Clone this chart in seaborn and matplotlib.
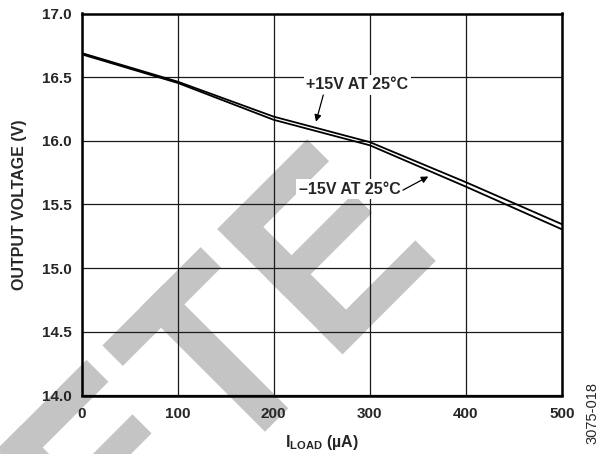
import numpy as np
import pandas as pd
import matplotlib
matplotlib.use("Agg")
import matplotlib.pyplot as plt
from matplotlib.patches import Polygon
import seaborn as sns

# === DATA ===
load_ua = [0, 100, 200, 300, 400, 500]
vout_pos = [16.69, 16.465, 16.19, 15.99, 15.675, 15.345]   # +15V AT 25°C
vout_neg = [16.68, 16.455, 16.165, 15.965, 15.64, 15.305]  # -15V AT 25°C
x_ticks = [0, 100, 200, 300, 400, 500]
y_ticks = [14.0, 14.5, 15.0, 15.5, 16.0, 16.5, 17.0]

df = pd.DataFrame({
    "load": load_ua + load_ua,
    "vout": vout_pos + vout_neg,
    "supply": ["+15V"] * len(load_ua) + ["-15V"] * len(load_ua),
})

# === STYLE ===
sns.set_style("white")
plt.rcParams["font.family"] = ["Liberation Sans", "DejaVu Sans"]
plt.rcParams["mathtext.fontset"] = "custom"
plt.rcParams["mathtext.rm"] = "Liberation Sans"
plt.rcParams["mathtext.bf"] = "Liberation Sans:bold"

W, H = 600, 454
fig = plt.figure(figsize=(W / 100, H / 100), dpi=100)
ax = fig.add_axes([81.5 / W, 1 - 395.5 / H, (562 - 81.5) / W, (395.5 - 13.5) / H])
ax.patch.set_alpha(0)

# === WATERMARK (grey rotated letters "E T E") ===
def to_fig(u, v, ox=265.0, oy=431.7):
    r = np.sqrt(2)
    X = ox + (u - v) / r
    Y = oy - (u + v) / r
    return X / W, 1 - Y / H

def letter_E(u0):
    return [(u0, u0 + 34, 0, 177), (u0, u0 + 132, 0, 29),
            (u0, u0 + 121, 79, 106), (u0, u0 + 127, 146, 177)]

rects = letter_E(-202.4) + [(0, 33, 0, 176), (-54, 85, 147, 176)] + letter_E(109.6)
for u1, u2, v1, v2 in rects:
    pts = [to_fig(u1, v1), to_fig(u2, v1), to_fig(u2, v2), to_fig(u1, v2)]
    fig.patches.append(Polygon(pts, closed=True, transform=fig.transFigure,
                               facecolor="#c4c4c4", edgecolor="none", zorder=-1))

# === LINES ===
sns.lineplot(data=df, x="load", y="vout", hue="supply",
             palette=["black", "black"], linewidth=1.3, legend=False,
             ax=ax, zorder=3)

ax.set_xlim(0, 500)
ax.set_ylim(14.0, 17.0)
ax.set_xticks(x_ticks)
ax.set_yticks(y_ticks)
ax.set_xticklabels([str(t) for t in x_ticks])
ax.set_yticklabels([f"{t:.1f}" for t in y_ticks])
ax.tick_params(length=0, labelsize=11, pad=7)
for lab in ax.get_xticklabels() + ax.get_yticklabels():
    lab.set_fontweight("bold")
ax.tick_params(axis="x", pad=8)

ax.grid(True, color="#1a1a1a", linewidth=0.9)
ax.set_axisbelow(True)
for s in ax.spines.values():
    s.set_visible(True)
    s.set_color("black")
    s.set_linewidth(1.8)
    s.set_zorder(4)

ax.set_xlabel(r"$\mathbf{I}_{\mathbf{LOAD}}$ (µA)", fontsize=11.5,
              fontweight="bold", labelpad=9)
ax.set_ylabel("OUTPUT VOLTAGE (V)", fontsize=11.5, fontweight="bold", labelpad=11)

# === ANNOTATIONS ===
box = dict(facecolor="white", edgecolor="none", pad=2)
arrow = dict(arrowstyle="-|>", color="black", lw=0.9, mutation_scale=10,
             shrinkA=0, shrinkB=0)
ax.text(287, 16.44, "+15V AT 25°C", ha="center", va="center", fontsize=11.5,
        fontweight="bold", bbox=box, zorder=5)
ax.annotate("", xy=(244, 16.15), xytext=(251.6, 16.36), arrowprops=arrow, zorder=5)
ax.text(279.4, 15.62, "–15V AT 25°C", ha="center", va="center", fontsize=11.5,
        fontweight="bold", bbox=box, zorder=5)
ax.annotate("", xy=(360.9, 15.72), xytext=(334.5, 15.613), arrowprops=arrow, zorder=5)

fig.text(592 / W, 1 - 413 / H, "3075-018", rotation=90, ha="center",
         va="center", fontsize=10.5)

fig.savefig("out.png", dpi=100)
